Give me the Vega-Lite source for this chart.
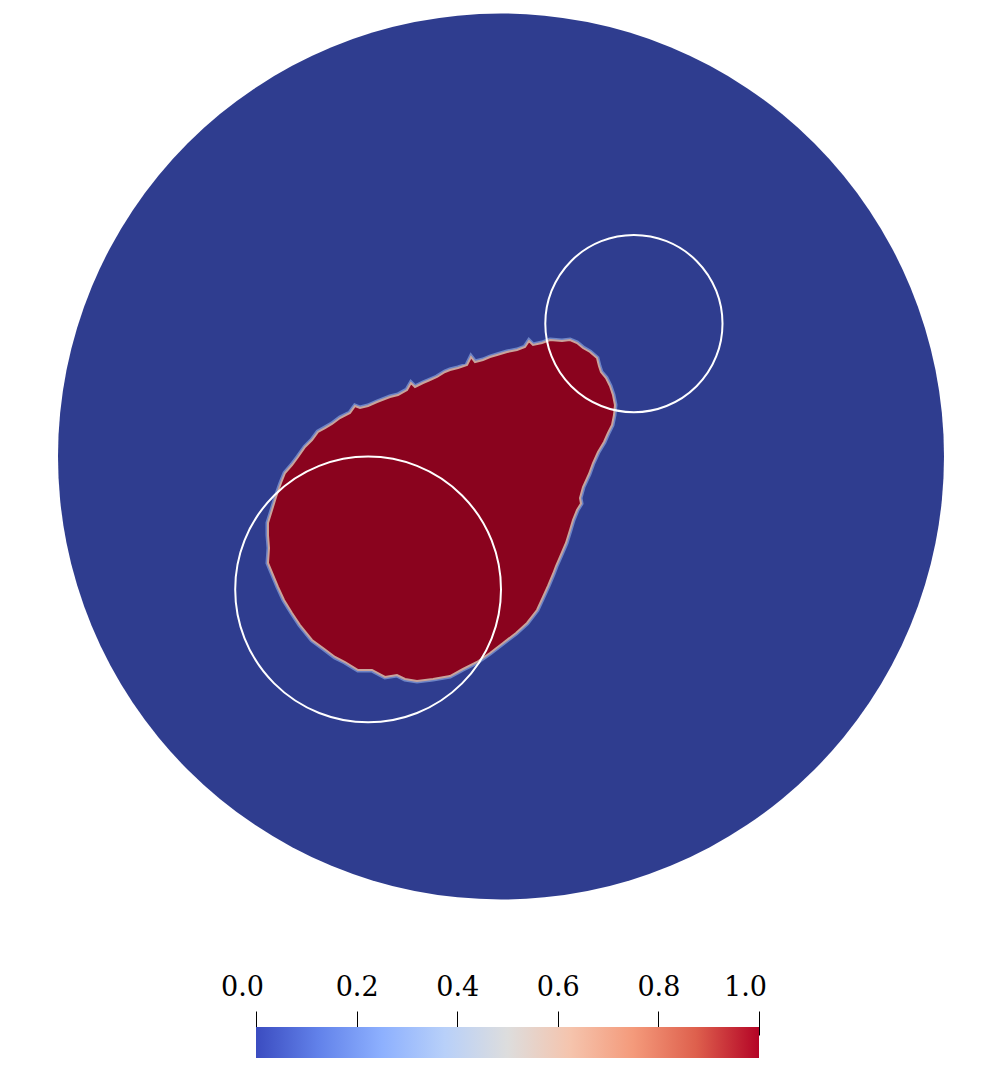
{
  "$schema": "https://vega.github.io/schema/vega-lite/v6.json",
  "width": 982,
  "height": 1076,
  "autosize": {"type": "none"},
  "padding": 0,
  "background": "white",
  "config": {"view": {"stroke": null}},
  "datasets": {
    "domain": [{"name": "disk", "x": 0, "y": 0, "r": 1}],
    "interfaces": [
      {"name": "small", "x": 0.3, "y": 0.3, "r": 0.2},
      {"name": "large", "x": -0.3, "y": -0.3, "r": 0.3}
    ],
    "phase": [
      {"i": 1, "x": 0.1106, "y": 0.2630},
      {"i": 2, "x": 0.1377, "y": 0.2607},
      {"i": 3, "x": 0.1558, "y": 0.2630},
      {"i": 4, "x": 0.1716, "y": 0.2562},
      {"i": 5, "x": 0.1851, "y": 0.2449},
      {"i": 6, "x": 0.2009, "y": 0.2359},
      {"i": 7, "x": 0.2167, "y": 0.2223},
      {"i": 8, "x": 0.2212, "y": 0.2043},
      {"i": 9, "x": 0.2257, "y": 0.1907},
      {"i": 10, "x": 0.2370, "y": 0.1772},
      {"i": 11, "x": 0.2460, "y": 0.1591},
      {"i": 12, "x": 0.2528, "y": 0.1388},
      {"i": 13, "x": 0.2573, "y": 0.1163},
      {"i": 14, "x": 0.2551, "y": 0.0937},
      {"i": 15, "x": 0.2506, "y": 0.0711},
      {"i": 16, "x": 0.2415, "y": 0.0530},
      {"i": 17, "x": 0.2325, "y": 0.0327},
      {"i": 18, "x": 0.2190, "y": 0.0102},
      {"i": 19, "x": 0.2077, "y": -0.0147},
      {"i": 20, "x": 0.1986, "y": -0.0395},
      {"i": 21, "x": 0.1851, "y": -0.0688},
      {"i": 22, "x": 0.1783, "y": -0.0937},
      {"i": 22.5, "x": 0.1806, "y": -0.1061},
      {"i": 23, "x": 0.1716, "y": -0.1208},
      {"i": 24, "x": 0.1625, "y": -0.1433},
      {"i": 25, "x": 0.1558, "y": -0.1659},
      {"i": 26, "x": 0.1467, "y": -0.1953},
      {"i": 27, "x": 0.1332, "y": -0.2269},
      {"i": 28, "x": 0.1242, "y": -0.2472},
      {"i": 29, "x": 0.1174, "y": -0.2652},
      {"i": 30, "x": 0.1061, "y": -0.2923},
      {"i": 31, "x": 0.0948, "y": -0.3172},
      {"i": 32, "x": 0.0813, "y": -0.3465},
      {"i": 33, "x": 0.0587, "y": -0.3758},
      {"i": 34, "x": 0.0339, "y": -0.3984},
      {"i": 35, "x": 0.0045, "y": -0.4210},
      {"i": 36, "x": -0.0248, "y": -0.4436},
      {"i": 37, "x": -0.0542, "y": -0.4639},
      {"i": 38, "x": -0.0858, "y": -0.4797},
      {"i": 39, "x": -0.1151, "y": -0.4955},
      {"i": 40, "x": -0.1535, "y": -0.5023},
      {"i": 41, "x": -0.1896, "y": -0.5068},
      {"i": 42, "x": -0.2167, "y": -0.5023},
      {"i": 43, "x": -0.2348, "y": -0.4932},
      {"i": 44, "x": -0.2619, "y": -0.4977},
      {"i": 45, "x": -0.2912, "y": -0.4819},
      {"i": 46, "x": -0.3228, "y": -0.4819},
      {"i": 47, "x": -0.3521, "y": -0.4639},
      {"i": 48, "x": -0.3747, "y": -0.4526},
      {"i": 49, "x": -0.4018, "y": -0.4323},
      {"i": 50, "x": -0.4266, "y": -0.4142},
      {"i": 51, "x": -0.4537, "y": -0.3804},
      {"i": 52, "x": -0.4718, "y": -0.3533},
      {"i": 53, "x": -0.4898, "y": -0.3239},
      {"i": 54, "x": -0.5034, "y": -0.2946},
      {"i": 55, "x": -0.5147, "y": -0.2675},
      {"i": 56, "x": -0.5260, "y": -0.2404},
      {"i": 57, "x": -0.5237, "y": -0.2065},
      {"i": 58, "x": -0.5260, "y": -0.1772},
      {"i": 59, "x": -0.5260, "y": -0.1501},
      {"i": 60, "x": -0.5169, "y": -0.1208},
      {"i": 61, "x": -0.5079, "y": -0.0914},
      {"i": 62, "x": -0.4966, "y": -0.0598},
      {"i": 63, "x": -0.4876, "y": -0.0372},
      {"i": 64, "x": -0.4718, "y": -0.0192},
      {"i": 65, "x": -0.4582, "y": -0.0011},
      {"i": 66, "x": -0.4424, "y": 0.0214},
      {"i": 67, "x": -0.4266, "y": 0.0372},
      {"i": 68, "x": -0.4131, "y": 0.0553},
      {"i": 69, "x": -0.3973, "y": 0.0643},
      {"i": 70, "x": -0.3815, "y": 0.0734},
      {"i": 71, "x": -0.3634, "y": 0.0869},
      {"i": 72, "x": -0.3409, "y": 0.0982},
      {"i": 72.5, "x": -0.3296, "y": 0.1140},
      {"i": 73, "x": -0.3183, "y": 0.1095},
      {"i": 74, "x": -0.3002, "y": 0.1140},
      {"i": 75, "x": -0.2799, "y": 0.1230},
      {"i": 76, "x": -0.2506, "y": 0.1343},
      {"i": 77, "x": -0.2325, "y": 0.1388},
      {"i": 78, "x": -0.2122, "y": 0.1501},
      {"i": 78.5, "x": -0.2032, "y": 0.1659},
      {"i": 79, "x": -0.1941, "y": 0.1569},
      {"i": 80, "x": -0.1761, "y": 0.1659},
      {"i": 81, "x": -0.1603, "y": 0.1727},
      {"i": 82, "x": -0.1445, "y": 0.1795},
      {"i": 83, "x": -0.1264, "y": 0.1907},
      {"i": 84, "x": -0.1151, "y": 0.1953},
      {"i": 85, "x": -0.0971, "y": 0.1998},
      {"i": 86, "x": -0.0767, "y": 0.2065},
      {"i": 86.5, "x": -0.0677, "y": 0.2246},
      {"i": 87, "x": -0.0587, "y": 0.2133},
      {"i": 88, "x": -0.0406, "y": 0.2178},
      {"i": 89, "x": -0.0248, "y": 0.2246},
      {"i": 90, "x": -0.0090, "y": 0.2291},
      {"i": 91, "x": 0.0135, "y": 0.2359},
      {"i": 92, "x": 0.0361, "y": 0.2404},
      {"i": 93, "x": 0.0542, "y": 0.2472},
      {"i": 93.5, "x": 0.0632, "y": 0.2607},
      {"i": 94, "x": 0.0722, "y": 0.2517},
      {"i": 95, "x": 0.0926, "y": 0.2562}
    ],
    "colorbar": [{"v0": 0, "v1": 1}]
  },
  "layer": [
    {
      "encoding": {
        "x": {"field": "x", "type": "quantitative", "scale": {"domain": [-1.13093, 1.08578], "nice": false, "zero": false}, "axis": null},
        "y": {"field": "y", "type": "quantitative", "scale": {"domain": [-1.39842, 1.03047], "nice": false, "zero": false}, "axis": null}
      },
      "layer": [
        {
          "data": {"name": "domain"},
          "mark": {"type": "point", "shape": "circle", "filled": true, "fill": "#2f3d8f", "strokeWidth": 0, "opacity": 1},
          "encoding": {
            "size": {"field": "r", "type": "quantitative", "scale": {"type": "pow", "exponent": 2, "domain": [0, 1], "range": [0, 784996]}, "legend": null}
          }
        },
        {
          "data": {"name": "phase"},
          "mark": {"type": "line", "interpolate": "linear-closed", "stroke": "#6d84c6", "strokeWidth": 5, "strokeJoin": "miter", "opacity": 1},
          "encoding": {"order": {"field": "i", "type": "quantitative"}}
        },
        {
          "data": {"name": "phase"},
          "mark": {"type": "line", "interpolate": "linear-closed", "fill": "#8a031e", "stroke": "#c9a49c", "strokeWidth": 2, "strokeJoin": "miter", "opacity": 1},
          "encoding": {"order": {"field": "i", "type": "quantitative"}}
        },
        {
          "data": {"name": "interfaces"},
          "mark": {"type": "point", "shape": "circle", "filled": false, "stroke": "white", "strokeWidth": 2, "opacity": 1},
          "encoding": {
            "size": {"field": "r", "type": "quantitative", "scale": {"type": "pow", "exponent": 2, "domain": [0, 1], "range": [0, 784996]}, "legend": null}
          }
        }
      ]
    },
    {
      "data": {"name": "colorbar"},
      "mark": {
        "type": "rect",
        "fill": {
          "gradient": "linear", "x1": 0, "x2": 1, "y1": 0, "y2": 0,
          "stops": [
            {"offset": 0, "color": "#3b4cc0"},
            {"offset": 0.125, "color": "#6282ea"},
            {"offset": 0.25, "color": "#8db0fe"},
            {"offset": 0.375, "color": "#b8d0f9"},
            {"offset": 0.5, "color": "#dddddd"},
            {"offset": 0.625, "color": "#f5c4ad"},
            {"offset": 0.75, "color": "#f49a7b"},
            {"offset": 0.875, "color": "#de604d"},
            {"offset": 1, "color": "#b40426"}
          ]
        }
      },
      "encoding": {
        "x": {
          "field": "v0", "type": "quantitative",
          "scale": {"domain": [0, 1], "range": [256, 759], "nice": false, "zero": false},
          "axis": {
            "orient": "top", "offset": -1035, "values": [0, 0.2, 0.4, 0.6, 0.8, 1], "format": ".1f",
            "domain": false, "grid": false, "ticks": true, "tickSize": 24, "tickColor": "black", "tickWidth": 1,
            "labelFont": "DejaVu Serif", "labelFontSize": 27, "labelColor": "black", "labelPadding": 10,
            "labelFlush": false, "labelOverlap": false, "labelBound": false,
            "labelOffset": {"condition": {"test": "datum.value == 0 || datum.value == 1", "value": -14}, "value": 0},
            "title": null
          }
        },
        "x2": {"field": "v1"},
        "y": {"datum": 0, "type": "quantitative", "scale": {"domain": [0, 1], "range": [1058, 1027]}, "axis": null},
        "y2": {"datum": 1}
      }
    }
  ],
  "resolve": {"scale": {"x": "independent", "y": "independent"}}
}
